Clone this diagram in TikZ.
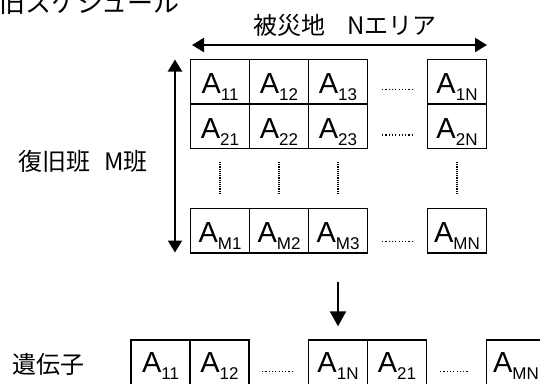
\documentclass[tikz,border=0pt]{standalone}
\usepackage{fontspec}
\setmainfont{Liberation Sans}
\newfontfamily\jp{Noto Sans CJK JP}
\usetikzlibrary{arrows.meta}
\newcommand{\Asub}[1]{{\fontsize{29}{29}\selectfont A}\raisebox{-7pt}{\fontsize{17}{17}\selectfont #1}}
\begin{document}
\begin{tikzpicture}[x=1pt,y=-1pt,
  cell/.style={draw,line width=1.4pt,minimum width=59pt,minimum height=44.5pt,inner sep=0pt},
  lbl/.style={anchor=base,inner sep=0pt},
  jptext/.style={inner sep=0pt,font=\jp\fontsize{24}{24}\selectfont},
  arr/.style={line width=2.2pt,{Triangle[length=12pt,width=14pt]}-{Triangle[length=12pt,width=14pt]}},
  arrd/.style={line width=2.4pt,-{Triangle[length=15pt,width=16pt]}},
  vdots/.style={line width=1.3pt,dash pattern=on 1.1pt off 1.1pt},
  hdots/.style={line width=1.1pt,dash pattern=on 1.2pt off 2.1pt}]
\useasboundingbox (0,0) rectangle (540,383);
% title (cropped at the top of the page, as in the reference)
\node[inner sep=0pt,anchor=base west,font=\jp\fontsize{26}{26}\selectfont] (title) at (-27,12) {復旧スケジュール};
\node[jptext] (area) at (345,25) {被災地\hspace{0.9em}Nエリア};
\node[jptext] (team) at (83,161.7) {復旧班\hspace{0.6em}M班};
\node[jptext] (gene) at (48.5,364) {遺伝子};
% grid cells
\foreach \n/\x/\y in {11/220/81.75,12/279/81.75,13/338/81.75,1N/457/81.75,
                      21/220/126.25,22/279/126.25,23/338/126.25,2N/457/126.25,
                      M1/220/230.75,M2/279/230.75,M3/338/230.75,MN/457/230.75}{
  \node[cell] (c\n) at (\x,\y) {};
  \node[lbl] (t\n) at ([yshift=11pt]c\n.south) {\Asub{\n}};
}
% gene cells
\foreach \k/\s/\x in {1/11/160.5,2/12/219.5,3/1N/338,4/21/397,5/MN/516}{
  \node[cell] (g\k) at (\x,362.25) {};
  \node[lbl] (gt\k) at ([yshift=12.5pt]g\k.south) {\Asub{\s}};
}
% arrows
\coordinate (hl) at (192,45);
\coordinate (hr) at (487,45);
\draw[arr] (hl) -- (hr);
\coordinate (vt) at (175,59.5);
\coordinate (vb) at (175,252.5);
\draw[arr] (vt) -- (vb);
\coordinate (dtop) at (338,281.5);
\draw[arrd] (dtop) -- ([yshift=13pt]g3.north);
% vertical dots
\foreach \x in {220,279,338,457}{
  \draw[vdots] (\x,162) -- (\x,193);
}
% horizontal dots
\draw[hdots] (382,89.5) -- (412,89.5);
\draw[hdots] (382,135) -- (412,135);
\draw[hdots] (382,241.5) -- (412,241.5);
\draw[hdots] (262,371.7) -- (292,371.7);
\draw[hdots] (440,371.7) -- (468,371.7);
\end{tikzpicture}
\end{document}
